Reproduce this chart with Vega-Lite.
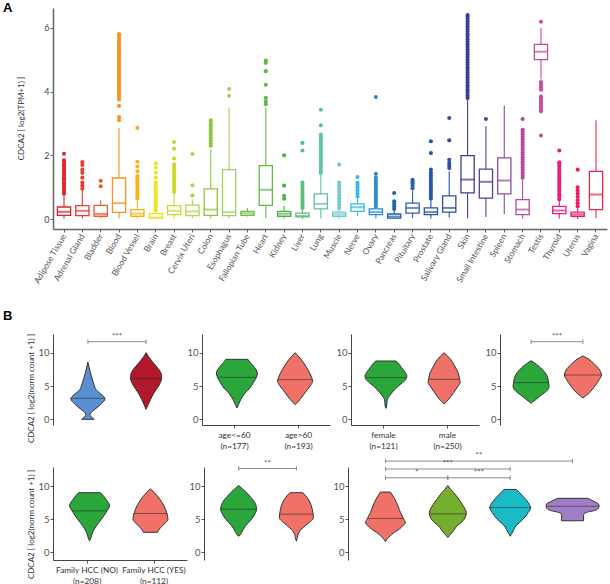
{
"$schema":"https://vega.github.io/schema/vega-lite/v6.json",
"background":"white",
"padding":{"left":3,"top":2,"right":0,"bottom":0},
"config":{
 "font":"Lato",
 "view":{"stroke":null},
 "axis":{"grid":false,"labelFont":"Lato","titleFont":"Lato","titleFontWeight":"normal","titleFontSize":8,"titleColor":"#333","labelColor":"#555","tickSize":3,"tickColor":"#555","domainColor":"#444","labelPadding":1},
 "axisX":{"labelFontSize":8.3,"labelColor":"#333","labelLineHeight":11,"labelPadding":2,"labelOverlap":false,"labelAngle":0},
 "axisY":{"labelFontSize":9.5}
},
"datasets":{
 "box":[
  {"t":"Adipose Tissue","lo":0.02,"q1":0.12,"med":0.23,"q3":0.38,"hi":0.76},
  {"t":"Adrenal Gland","lo":0.02,"q1":0.11,"med":0.26,"q3":0.42,"hi":0.88},
  {"t":"Bladder","lo":0.03,"q1":0.09,"med":0.16,"q3":0.43,"hi":0.58},
  {"t":"Blood","lo":0.02,"q1":0.21,"med":0.5,"q3":1.29,"hi":2.86},
  {"t":"Blood Vessel","lo":0.02,"q1":0.09,"med":0.17,"q3":0.3,"hi":0.6},
  {"t":"Brain","lo":0.0,"q1":0.03,"med":0.05,"q3":0.17,"hi":0.22},
  {"t":"Breast","lo":0.02,"q1":0.14,"med":0.26,"q3":0.42,"hi":0.8},
  {"t":"Cervix Uteri","lo":0.02,"q1":0.11,"med":0.24,"q3":0.44,"hi":0.62},
  {"t":"Colon","lo":0.02,"q1":0.12,"med":0.3,"q3":0.95,"hi":2.18},
  {"t":"Esophagus","lo":0.02,"q1":0.11,"med":0.22,"q3":1.55,"hi":3.49},
  {"t":"Fallopian Tube","lo":0.08,"q1":0.12,"med":0.18,"q3":0.24,"hi":0.35},
  {"t":"Heart","lo":0.03,"q1":0.43,"med":0.92,"q3":1.68,"hi":3.49},
  {"t":"Kidney","lo":0.02,"q1":0.09,"med":0.17,"q3":0.24,"hi":0.42},
  {"t":"Liver","lo":0.0,"q1":0.07,"med":0.1,"q3":0.19,"hi":0.3},
  {"t":"Lung","lo":0.02,"q1":0.32,"med":0.48,"q3":0.79,"hi":1.39},
  {"t":"Muscle","lo":0.0,"q1":0.09,"med":0.15,"q3":0.22,"hi":0.3},
  {"t":"Nerve","lo":0.1,"q1":0.24,"med":0.37,"q3":0.48,"hi":0.63},
  {"t":"Ovary","lo":0.02,"q1":0.14,"med":0.22,"q3":0.32,"hi":0.55},
  {"t":"Pancreas","lo":0.0,"q1":0.03,"med":0.08,"q3":0.16,"hi":0.27},
  {"t":"Pituitary","lo":0.03,"q1":0.19,"med":0.35,"q3":0.5,"hi":0.9},
  {"t":"Prostate","lo":0.02,"q1":0.14,"med":0.22,"q3":0.35,"hi":0.6},
  {"t":"Salivary Gland","lo":0.05,"q1":0.22,"med":0.35,"q3":0.73,"hi":1.5},
  {"t":"Skin","lo":0.03,"q1":0.82,"med":1.24,"q3":1.99,"hi":3.75},
  {"t":"Small Intestine","lo":0.07,"q1":0.66,"med":1.17,"q3":1.57,"hi":2.91},
  {"t":"Spleen","lo":0.16,"q1":0.79,"med":1.21,"q3":1.92,"hi":3.56},
  {"t":"Stomach","lo":0.02,"q1":0.14,"med":0.3,"q3":0.61,"hi":1.25},
  {"t":"Testis","lo":4.38,"q1":5.0,"med":5.25,"q3":5.48,"hi":6.0},
  {"t":"Thyroid","lo":0.02,"q1":0.17,"med":0.27,"q3":0.4,"hi":0.58},
  {"t":"Uterus","lo":0.0,"q1":0.09,"med":0.15,"q3":0.22,"hi":0.35},
  {"t":"Vagina","lo":0.03,"q1":0.3,"med":0.77,"q3":1.5,"hi":3.1}
 ],
 "out":[
  {"t":"Adipose Tissue","y":0.8},{"t":"Adipose Tissue","y":0.88},{"t":"Adipose Tissue","y":0.96},{"t":"Adipose Tissue","y":1.04},{"t":"Adipose Tissue","y":1.12},{"t":"Adipose Tissue","y":1.2},{"t":"Adipose Tissue","y":1.28},{"t":"Adipose Tissue","y":1.36},{"t":"Adipose Tissue","y":1.44},{"t":"Adipose Tissue","y":1.52},{"t":"Adipose Tissue","y":1.6},{"t":"Adipose Tissue","y":1.68},{"t":"Adipose Tissue","y":1.76},{"t":"Adipose Tissue","y":1.84},{"t":"Adipose Tissue","y":2.05},
  {"t":"Adrenal Gland","y":0.95},{"t":"Adrenal Gland","y":1.05},{"t":"Adrenal Gland","y":1.15},{"t":"Adrenal Gland","y":1.3},{"t":"Adrenal Gland","y":1.45},{"t":"Adrenal Gland","y":1.55},{"t":"Adrenal Gland","y":1.7},{"t":"Adrenal Gland","y":1.79},
  {"t":"Bladder","y":1.03},{"t":"Bladder","y":1.2},
  {"t":"Blood","y":3.1},{"t":"Blood","y":3.2},{"t":"Blood","y":3.55},{"t":"Blood","y":3.75},{"t":"Blood","y":3.83},{"t":"Blood","y":3.91},{"t":"Blood","y":3.99},{"t":"Blood","y":4.07},{"t":"Blood","y":4.15},{"t":"Blood","y":4.23},{"t":"Blood","y":4.31},{"t":"Blood","y":4.39},{"t":"Blood","y":4.47},{"t":"Blood","y":4.55},{"t":"Blood","y":4.63},{"t":"Blood","y":4.71},{"t":"Blood","y":4.79},{"t":"Blood","y":4.87},{"t":"Blood","y":4.95},{"t":"Blood","y":5.03},{"t":"Blood","y":5.11},{"t":"Blood","y":5.19},{"t":"Blood","y":5.27},{"t":"Blood","y":5.35},{"t":"Blood","y":5.43},{"t":"Blood","y":5.51},{"t":"Blood","y":5.59},{"t":"Blood","y":5.67},{"t":"Blood","y":5.75},{"t":"Blood","y":5.8},
  {"t":"Blood Vessel","y":0.65},{"t":"Blood Vessel","y":0.72},{"t":"Blood Vessel","y":0.8},{"t":"Blood Vessel","y":0.88},{"t":"Blood Vessel","y":0.96},{"t":"Blood Vessel","y":1.04},{"t":"Blood Vessel","y":1.12},{"t":"Blood Vessel","y":1.2},{"t":"Blood Vessel","y":1.28},{"t":"Blood Vessel","y":1.36},{"t":"Blood Vessel","y":1.5},{"t":"Blood Vessel","y":1.65},{"t":"Blood Vessel","y":1.8},{"t":"Blood Vessel","y":2.86},
  {"t":"Brain","y":0.27},{"t":"Brain","y":0.35},{"t":"Brain","y":0.43},{"t":"Brain","y":0.51},{"t":"Brain","y":0.59},{"t":"Brain","y":0.67},{"t":"Brain","y":0.75},{"t":"Brain","y":0.83},{"t":"Brain","y":0.91},{"t":"Brain","y":0.99},{"t":"Brain","y":1.07},{"t":"Brain","y":1.15},{"t":"Brain","y":1.3},{"t":"Brain","y":1.45},{"t":"Brain","y":1.62},{"t":"Brain","y":1.75},
  {"t":"Breast","y":0.85},{"t":"Breast","y":0.93},{"t":"Breast","y":1.01},{"t":"Breast","y":1.09},{"t":"Breast","y":1.17},{"t":"Breast","y":1.25},{"t":"Breast","y":1.33},{"t":"Breast","y":1.41},{"t":"Breast","y":1.49},{"t":"Breast","y":1.57},{"t":"Breast","y":1.65},{"t":"Breast","y":1.72},{"t":"Breast","y":1.9},{"t":"Breast","y":2.21},{"t":"Breast","y":2.42},
  {"t":"Cervix Uteri","y":0.74},{"t":"Cervix Uteri","y":1.06},{"t":"Cervix Uteri","y":2.04},
  {"t":"Colon","y":2.3},{"t":"Colon","y":2.38},{"t":"Colon","y":2.46},{"t":"Colon","y":2.54},{"t":"Colon","y":2.62},{"t":"Colon","y":2.7},{"t":"Colon","y":2.78},{"t":"Colon","y":2.86},{"t":"Colon","y":2.94},{"t":"Colon","y":3.02},{"t":"Colon","y":3.1},
  {"t":"Esophagus","y":3.87},{"t":"Esophagus","y":4.08},
  {"t":"Heart","y":3.6},{"t":"Heart","y":3.68},{"t":"Heart","y":3.8},{"t":"Heart","y":4.21},{"t":"Heart","y":4.64},{"t":"Heart","y":4.9},{"t":"Heart","y":4.97},
  {"t":"Kidney","y":0.64},{"t":"Kidney","y":0.73},{"t":"Kidney","y":1.05},{"t":"Kidney","y":2.0},
  {"t":"Liver","y":0.35},{"t":"Liver","y":0.43},{"t":"Liver","y":0.51},{"t":"Liver","y":0.59},{"t":"Liver","y":0.67},{"t":"Liver","y":0.75},{"t":"Liver","y":0.83},{"t":"Liver","y":0.91},{"t":"Liver","y":0.99},{"t":"Liver","y":1.07},{"t":"Liver","y":1.15},{"t":"Liver","y":2.15},{"t":"Liver","y":2.39},
  {"t":"Lung","y":1.45},{"t":"Lung","y":1.53},{"t":"Lung","y":1.61},{"t":"Lung","y":1.69},{"t":"Lung","y":1.77},{"t":"Lung","y":1.85},{"t":"Lung","y":1.93},{"t":"Lung","y":2.01},{"t":"Lung","y":2.09},{"t":"Lung","y":2.17},{"t":"Lung","y":2.25},{"t":"Lung","y":2.33},{"t":"Lung","y":2.41},{"t":"Lung","y":2.49},{"t":"Lung","y":2.57},{"t":"Lung","y":2.65},{"t":"Lung","y":2.94},{"t":"Lung","y":3.43},
  {"t":"Muscle","y":0.35},{"t":"Muscle","y":0.45},{"t":"Muscle","y":0.55},{"t":"Muscle","y":0.65},{"t":"Muscle","y":0.75},{"t":"Muscle","y":0.85},{"t":"Muscle","y":0.95},{"t":"Muscle","y":1.05},{"t":"Muscle","y":1.15},{"t":"Muscle","y":1.71},
  {"t":"Nerve","y":0.7},{"t":"Nerve","y":0.8},{"t":"Nerve","y":0.9},{"t":"Nerve","y":1.0},{"t":"Nerve","y":1.08},{"t":"Nerve","y":1.14},{"t":"Nerve","y":1.32},
  {"t":"Ovary","y":0.4},{"t":"Ovary","y":0.48},{"t":"Ovary","y":0.56},{"t":"Ovary","y":0.64},{"t":"Ovary","y":0.72},{"t":"Ovary","y":0.8},{"t":"Ovary","y":0.88},{"t":"Ovary","y":0.96},{"t":"Ovary","y":1.04},{"t":"Ovary","y":1.12},{"t":"Ovary","y":1.2},{"t":"Ovary","y":1.3},{"t":"Ovary","y":1.42},{"t":"Ovary","y":3.83},
  {"t":"Pancreas","y":0.32},{"t":"Pancreas","y":0.4},{"t":"Pancreas","y":0.48},{"t":"Pancreas","y":0.56},{"t":"Pancreas","y":0.82},
  {"t":"Pituitary","y":0.97},{"t":"Pituitary","y":1.05},{"t":"Pituitary","y":1.12},{"t":"Pituitary","y":1.18},{"t":"Pituitary","y":1.23},
  {"t":"Prostate","y":0.65},{"t":"Prostate","y":0.73},{"t":"Prostate","y":0.81},{"t":"Prostate","y":0.89},{"t":"Prostate","y":0.97},{"t":"Prostate","y":1.05},{"t":"Prostate","y":1.13},{"t":"Prostate","y":1.21},{"t":"Prostate","y":1.29},{"t":"Prostate","y":1.37},{"t":"Prostate","y":1.45},{"t":"Prostate","y":1.55},{"t":"Prostate","y":2.07},{"t":"Prostate","y":2.44},
  {"t":"Salivary Gland","y":1.6},{"t":"Salivary Gland","y":1.68},{"t":"Salivary Gland","y":1.76},{"t":"Salivary Gland","y":1.86},{"t":"Salivary Gland","y":2.47},{"t":"Salivary Gland","y":3.17},
  {"t":"Skin","y":3.8},{"t":"Skin","y":3.88},{"t":"Skin","y":3.96},{"t":"Skin","y":4.04},{"t":"Skin","y":4.12},{"t":"Skin","y":4.2},{"t":"Skin","y":4.28},{"t":"Skin","y":4.36},{"t":"Skin","y":4.44},{"t":"Skin","y":4.52},{"t":"Skin","y":4.6},{"t":"Skin","y":4.68},{"t":"Skin","y":4.76},{"t":"Skin","y":4.84},{"t":"Skin","y":4.92},{"t":"Skin","y":5.0},{"t":"Skin","y":5.08},{"t":"Skin","y":5.16},{"t":"Skin","y":5.24},{"t":"Skin","y":5.32},{"t":"Skin","y":5.4},{"t":"Skin","y":5.48},{"t":"Skin","y":5.56},{"t":"Skin","y":5.64},{"t":"Skin","y":5.72},{"t":"Skin","y":5.8},{"t":"Skin","y":5.88},{"t":"Skin","y":5.96},{"t":"Skin","y":6.04},{"t":"Skin","y":6.12},{"t":"Skin","y":6.2},{"t":"Skin","y":6.28},{"t":"Skin","y":6.36},{"t":"Skin","y":6.4},
  {"t":"Small Intestine","y":3.14},
  {"t":"Stomach","y":1.3},{"t":"Stomach","y":1.38},{"t":"Stomach","y":1.46},{"t":"Stomach","y":1.54},{"t":"Stomach","y":1.62},{"t":"Stomach","y":1.7},{"t":"Stomach","y":1.78},{"t":"Stomach","y":1.86},{"t":"Stomach","y":1.94},{"t":"Stomach","y":2.02},{"t":"Stomach","y":2.1},{"t":"Stomach","y":2.18},{"t":"Stomach","y":2.26},{"t":"Stomach","y":2.34},{"t":"Stomach","y":2.42},{"t":"Stomach","y":2.5},{"t":"Stomach","y":2.58},{"t":"Stomach","y":2.66},{"t":"Stomach","y":2.74},{"t":"Stomach","y":2.8},{"t":"Stomach","y":3.14},
  {"t":"Testis","y":2.62},{"t":"Testis","y":3.38},{"t":"Testis","y":3.46},{"t":"Testis","y":3.54},{"t":"Testis","y":3.62},{"t":"Testis","y":3.7},{"t":"Testis","y":3.78},{"t":"Testis","y":3.84},{"t":"Testis","y":4.06},{"t":"Testis","y":4.14},{"t":"Testis","y":4.22},{"t":"Testis","y":4.3},{"t":"Testis","y":6.19},
  {"t":"Thyroid","y":0.62},{"t":"Thyroid","y":0.7},{"t":"Thyroid","y":0.78},{"t":"Thyroid","y":0.86},{"t":"Thyroid","y":0.94},{"t":"Thyroid","y":1.02},{"t":"Thyroid","y":1.1},{"t":"Thyroid","y":1.18},{"t":"Thyroid","y":1.26},{"t":"Thyroid","y":1.34},{"t":"Thyroid","y":1.42},{"t":"Thyroid","y":1.5},{"t":"Thyroid","y":1.58},{"t":"Thyroid","y":1.66},{"t":"Thyroid","y":1.74},{"t":"Thyroid","y":1.78},{"t":"Thyroid","y":2.15},
  {"t":"Uterus","y":0.4},{"t":"Uterus","y":0.5},{"t":"Uterus","y":0.6},{"t":"Uterus","y":0.7},{"t":"Uterus","y":0.8},{"t":"Uterus","y":0.9},{"t":"Uterus","y":1.0},{"t":"Uterus","y":1.55}
 ],
 "grp":[
  {"p":"b1","g":"normal (n=276)"},{"p":"b1","g":"tumor (n=371)"},
  {"p":"b2","g":"age<=60 (n=177)"},{"p":"b2","g":"age>60 (n=193)"},
  {"p":"b3","g":"female (n=121)"},{"p":"b3","g":"male (n=250)"},
  {"p":"b4","g":"AFP normal (n=147)"},{"p":"b4","g":"AFP abnormal (n=131)"},
  {"p":"c1","g":"Family HCC (NO) (n=208)"},{"p":"c1","g":"Family HCC (YES) (n=112)"},
  {"p":"c2","g":"Low stromal score (n=185)"},{"p":"c2","g":"High stromal score (n=186)"},
  {"p":"c3","g":"G1 (n=55)"},{"p":"c3","g":"G2 (n=177)"},{"p":"c3","g":"G3 (n=122)"},{"p":"c3","g":"G4 (n=12)"}
 ],
 "br":[
  {"p":"b1","g1":"normal (n=276)","g2":"tumor (n=371)","m":"normal (n=276)","v":11.65,"s":"***"},
  {"p":"b4","g1":"AFP normal (n=147)","g2":"AFP abnormal (n=131)","m":"AFP normal (n=147)","v":11.65,"s":"***"},
  {"p":"c2","g1":"Low stromal score (n=185)","g2":"High stromal score (n=186)","m":"Low stromal score (n=185)","v":12.67,"s":"**"},
  {"p":"c3","g1":"G1 (n=55)","g2":"G4 (n=12)","m":"G2 (n=177)","v":13.8,"s":"**"},
  {"p":"c3","g1":"G1 (n=55)","g2":"G3 (n=122)","m":"G2 (n=177)","v":12.6,"s":"***"},
  {"p":"c3","g1":"G1 (n=55)","g2":"G2 (n=177)","m":"G1 (n=55)","v":11.26,"s":"*"},
  {"p":"c3","g1":"G2 (n=177)","g2":"G3 (n=122)","m":"G2 (n=177)","v":11.26,"s":"***"}
 ],
 "vio":[
  {"g":"normal (n=276)","v":0,"w":12},{"g":"normal (n=276)","v":0.25,"w":9},{"g":"normal (n=276)","v":0.6,"w":4},{"g":"normal (n=276)","v":1.0,"w":6},{"g":"normal (n=276)","v":1.5,"w":14},{"g":"normal (n=276)","v":2.0,"w":22},{"g":"normal (n=276)","v":2.5,"w":29},{"g":"normal (n=276)","v":3.0,"w":34},{"g":"normal (n=276)","v":3.15,"w":34},{"g":"normal (n=276)","v":3.4,"w":32},{"g":"normal (n=276)","v":3.8,"w":26},{"g":"normal (n=276)","v":4.3,"w":18},{"g":"normal (n=276)","v":5.0,"w":13},{"g":"normal (n=276)","v":5.5,"w":11},{"g":"normal (n=276)","v":6.2,"w":8},{"g":"normal (n=276)","v":7.0,"w":5},{"g":"normal (n=276)","v":7.8,"w":2.5},{"g":"normal (n=276)","v":8.6,"w":0},
  {"g":"tumor (n=371)","v":1.5,"w":0},{"g":"tumor (n=371)","v":2.2,"w":4},{"g":"tumor (n=371)","v":3.0,"w":9},{"g":"tumor (n=371)","v":4.0,"w":16},{"g":"tumor (n=371)","v":5.0,"w":25},{"g":"tumor (n=371)","v":5.6,"w":29},{"g":"tumor (n=371)","v":6.1,"w":31},{"g":"tumor (n=371)","v":6.6,"w":31},{"g":"tumor (n=371)","v":7.2,"w":28},{"g":"tumor (n=371)","v":8.0,"w":20},{"g":"tumor (n=371)","v":8.8,"w":11},{"g":"tumor (n=371)","v":9.4,"w":5},{"g":"tumor (n=371)","v":10.0,"w":0},
  {"g":"age<=60 (n=177)","v":1.7,"w":0},{"g":"age<=60 (n=177)","v":2.2,"w":3},{"g":"age<=60 (n=177)","v":3.0,"w":8},{"g":"age<=60 (n=177)","v":4.0,"w":17},{"g":"age<=60 (n=177)","v":4.7,"w":26},{"g":"age<=60 (n=177)","v":5.5,"w":33},{"g":"age<=60 (n=177)","v":6.0,"w":37},{"g":"age<=60 (n=177)","v":6.3,"w":39},{"g":"age<=60 (n=177)","v":7.0,"w":41},{"g":"age<=60 (n=177)","v":7.5,"w":38},{"g":"age<=60 (n=177)","v":8.0,"w":33},{"g":"age<=60 (n=177)","v":8.5,"w":27},{"g":"age<=60 (n=177)","v":9.0,"w":22},
  {"g":"age>60 (n=193)","v":2.2,"w":0},{"g":"age>60 (n=193)","v":2.5,"w":4},{"g":"age>60 (n=193)","v":3.0,"w":10},{"g":"age>60 (n=193)","v":4.0,"w":20},{"g":"age>60 (n=193)","v":5.0,"w":30},{"g":"age>60 (n=193)","v":5.7,"w":35},{"g":"age>60 (n=193)","v":5.95,"w":34.5},{"g":"age>60 (n=193)","v":6.5,"w":32},{"g":"age>60 (n=193)","v":7.0,"w":29},{"g":"age>60 (n=193)","v":8.0,"w":21},{"g":"age>60 (n=193)","v":9.0,"w":12},{"g":"age>60 (n=193)","v":9.5,"w":6},{"g":"age>60 (n=193)","v":10.0,"w":0},
  {"g":"female (n=121)","v":1.65,"w":0},{"g":"female (n=121)","v":2.0,"w":1.5},{"g":"female (n=121)","v":2.5,"w":2},{"g":"female (n=121)","v":3.0,"w":3},{"g":"female (n=121)","v":3.3,"w":5},{"g":"female (n=121)","v":4.0,"w":12},{"g":"female (n=121)","v":5.0,"w":25},{"g":"female (n=121)","v":5.5,"w":33},{"g":"female (n=121)","v":6.0,"w":40},{"g":"female (n=121)","v":6.25,"w":41},{"g":"female (n=121)","v":6.5,"w":42},{"g":"female (n=121)","v":7.0,"w":39},{"g":"female (n=121)","v":7.5,"w":34},{"g":"female (n=121)","v":8.0,"w":29},{"g":"female (n=121)","v":8.5,"w":24},{"g":"female (n=121)","v":8.75,"w":20},
  {"g":"male (n=250)","v":2.3,"w":0},{"g":"male (n=250)","v":3.0,"w":9},{"g":"male (n=250)","v":4.0,"w":19},{"g":"male (n=250)","v":5.0,"w":28},{"g":"male (n=250)","v":5.5,"w":32},{"g":"male (n=250)","v":6.0,"w":31},{"g":"male (n=250)","v":7.0,"w":28},{"g":"male (n=250)","v":8.0,"w":21},{"g":"male (n=250)","v":9.0,"w":13},{"g":"male (n=250)","v":9.5,"w":7},{"g":"male (n=250)","v":10.0,"w":0},
  {"g":"AFP normal (n=147)","v":2.4,"w":0},{"g":"AFP normal (n=147)","v":2.6,"w":3},{"g":"AFP normal (n=147)","v":3.0,"w":10},{"g":"AFP normal (n=147)","v":3.5,"w":18},{"g":"AFP normal (n=147)","v":4.0,"w":27},{"g":"AFP normal (n=147)","v":4.5,"w":34},{"g":"AFP normal (n=147)","v":5.0,"w":36},{"g":"AFP normal (n=147)","v":5.5,"w":35},{"g":"AFP normal (n=147)","v":6.0,"w":34},{"g":"AFP normal (n=147)","v":6.5,"w":32},{"g":"AFP normal (n=147)","v":7.0,"w":28},{"g":"AFP normal (n=147)","v":7.5,"w":22},{"g":"AFP normal (n=147)","v":8.0,"w":15},{"g":"AFP normal (n=147)","v":8.5,"w":6},{"g":"AFP normal (n=147)","v":8.8,"w":0},
  {"g":"AFP abnormal (n=131)","v":3.2,"w":0},{"g":"AFP abnormal (n=131)","v":3.5,"w":5},{"g":"AFP abnormal (n=131)","v":4.0,"w":13},{"g":"AFP abnormal (n=131)","v":5.0,"w":24},{"g":"AFP abnormal (n=131)","v":6.0,"w":33},{"g":"AFP abnormal (n=131)","v":6.65,"w":37},{"g":"AFP abnormal (n=131)","v":7.2,"w":35},{"g":"AFP abnormal (n=131)","v":8.0,"w":27},{"g":"AFP abnormal (n=131)","v":8.5,"w":20},{"g":"AFP abnormal (n=131)","v":9.0,"w":12},{"g":"AFP abnormal (n=131)","v":9.5,"w":0},
  {"g":"Family HCC (NO) (n=208)","v":1.7,"w":0},{"g":"Family HCC (NO) (n=208)","v":2.0,"w":2},{"g":"Family HCC (NO) (n=208)","v":3.0,"w":6},{"g":"Family HCC (NO) (n=208)","v":4.0,"w":14},{"g":"Family HCC (NO) (n=208)","v":5.0,"w":24},{"g":"Family HCC (NO) (n=208)","v":6.0,"w":33},{"g":"Family HCC (NO) (n=208)","v":6.25,"w":35},{"g":"Family HCC (NO) (n=208)","v":6.5,"w":37},{"g":"Family HCC (NO) (n=208)","v":7.0,"w":40},{"g":"Family HCC (NO) (n=208)","v":7.3,"w":39},{"g":"Family HCC (NO) (n=208)","v":8.0,"w":33},{"g":"Family HCC (NO) (n=208)","v":8.5,"w":28},{"g":"Family HCC (NO) (n=208)","v":9.0,"w":22},
  {"g":"Family HCC (YES) (n=112)","v":3.0,"w":14},{"g":"Family HCC (YES) (n=112)","v":3.5,"w":18},{"g":"Family HCC (YES) (n=112)","v":4.0,"w":24},{"g":"Family HCC (YES) (n=112)","v":4.5,"w":31},{"g":"Family HCC (YES) (n=112)","v":5.0,"w":35},{"g":"Family HCC (YES) (n=112)","v":5.85,"w":33},{"g":"Family HCC (YES) (n=112)","v":6.5,"w":30},{"g":"Family HCC (YES) (n=112)","v":7.0,"w":27},{"g":"Family HCC (YES) (n=112)","v":8.0,"w":19},{"g":"Family HCC (YES) (n=112)","v":8.5,"w":14},{"g":"Family HCC (YES) (n=112)","v":9.0,"w":8},{"g":"Family HCC (YES) (n=112)","v":9.6,"w":0},
  {"g":"Low stromal score (n=185)","v":2.4,"w":0},{"g":"Low stromal score (n=185)","v":2.6,"w":3},{"g":"Low stromal score (n=185)","v":3.0,"w":6},{"g":"Low stromal score (n=185)","v":4.0,"w":14},{"g":"Low stromal score (n=185)","v":5.0,"w":26},{"g":"Low stromal score (n=185)","v":6.0,"w":34},{"g":"Low stromal score (n=185)","v":6.5,"w":36},{"g":"Low stromal score (n=185)","v":7.0,"w":35},{"g":"Low stromal score (n=185)","v":8.0,"w":28},{"g":"Low stromal score (n=185)","v":8.5,"w":22},{"g":"Low stromal score (n=185)","v":9.0,"w":16},{"g":"Low stromal score (n=185)","v":9.5,"w":9},{"g":"Low stromal score (n=185)","v":10.1,"w":0},
  {"g":"High stromal score (n=186)","v":1.65,"w":0},{"g":"High stromal score (n=186)","v":2.2,"w":2},{"g":"High stromal score (n=186)","v":2.8,"w":4},{"g":"High stromal score (n=186)","v":3.3,"w":8},{"g":"High stromal score (n=186)","v":4.0,"w":18},{"g":"High stromal score (n=186)","v":4.5,"w":26},{"g":"High stromal score (n=186)","v":5.0,"w":33},{"g":"High stromal score (n=186)","v":5.2,"w":34},{"g":"High stromal score (n=186)","v":5.75,"w":33.5},{"g":"High stromal score (n=186)","v":6.0,"w":33},{"g":"High stromal score (n=186)","v":7.0,"w":30},{"g":"High stromal score (n=186)","v":8.0,"w":24},{"g":"High stromal score (n=186)","v":8.5,"w":19},{"g":"High stromal score (n=186)","v":9.0,"w":13},
  {"g":"G1 (n=55)","v":1.6,"w":0},{"g":"G1 (n=55)","v":2.2,"w":6},{"g":"G1 (n=55)","v":3.0,"w":18},{"g":"G1 (n=55)","v":3.5,"w":28},{"g":"G1 (n=55)","v":4.0,"w":35},{"g":"G1 (n=55)","v":4.45,"w":40},{"g":"G1 (n=55)","v":5.1,"w":36},{"g":"G1 (n=55)","v":6.0,"w":30},{"g":"G1 (n=55)","v":7.0,"w":25},{"g":"G1 (n=55)","v":8.0,"w":19},{"g":"G1 (n=55)","v":8.5,"w":15},{"g":"G1 (n=55)","v":9.1,"w":10},
  {"g":"G2 (n=177)","v":2.2,"w":0},{"g":"G2 (n=177)","v":2.5,"w":3},{"g":"G2 (n=177)","v":3.0,"w":9},{"g":"G2 (n=177)","v":4.0,"w":19},{"g":"G2 (n=177)","v":4.5,"w":27},{"g":"G2 (n=177)","v":5.0,"w":33},{"g":"G2 (n=177)","v":5.5,"w":36},{"g":"G2 (n=177)","v":5.8,"w":37},{"g":"G2 (n=177)","v":6.3,"w":36},{"g":"G2 (n=177)","v":7.0,"w":31},{"g":"G2 (n=177)","v":8.0,"w":22},{"g":"G2 (n=177)","v":9.0,"w":12},{"g":"G2 (n=177)","v":9.5,"w":6},{"g":"G2 (n=177)","v":10.1,"w":0},
  {"g":"G3 (n=122)","v":2.4,"w":0},{"g":"G3 (n=122)","v":2.8,"w":3},{"g":"G3 (n=122)","v":3.2,"w":6},{"g":"G3 (n=122)","v":4.0,"w":12},{"g":"G3 (n=122)","v":4.5,"w":19},{"g":"G3 (n=122)","v":5.0,"w":26},{"g":"G3 (n=122)","v":6.0,"w":36},{"g":"G3 (n=122)","v":6.75,"w":41},{"g":"G3 (n=122)","v":7.0,"w":40},{"g":"G3 (n=122)","v":8.0,"w":31},{"g":"G3 (n=122)","v":8.5,"w":25},{"g":"G3 (n=122)","v":9.0,"w":19},{"g":"G3 (n=122)","v":9.5,"w":12},
  {"g":"G4 (n=12)","v":4.75,"w":22},{"g":"G4 (n=12)","v":5.5,"w":22},{"g":"G4 (n=12)","v":5.9,"w":24},{"g":"G4 (n=12)","v":6.1,"w":32},{"g":"G4 (n=12)","v":6.3,"w":44},{"g":"G4 (n=12)","v":6.6,"w":51},{"g":"G4 (n=12)","v":6.95,"w":53},{"g":"G4 (n=12)","v":7.3,"w":52},{"g":"G4 (n=12)","v":7.6,"w":45},{"g":"G4 (n=12)","v":7.9,"w":37},{"g":"G4 (n=12)","v":8.15,"w":30}
 ]
},
"columns":1,
"align":"none",
"spacing":24,
"concat":[
  {
   "width":554,"height":221,
   "encoding":{
    "x":{"field":"t","type":"nominal","title":null,
     "scale":{"domain":["Adipose Tissue","Adrenal Gland","Bladder","Blood","Blood Vessel","Brain","Breast","Cervix Uteri","Colon","Esophagus","Fallopian Tube","Heart","Kidney","Liver","Lung","Muscle","Nerve","Ovary","Pancreas","Pituitary","Prostate","Salivary Gland","Skin","Small Intestine","Spleen","Stomach","Testis","Thyroid","Uterus","Vagina"],"paddingInner":0,"paddingOuter":0.1},
     "axis":{"labelAngle":-60,"labelFontSize":8.5,"labelColor":"#555","tickColor":"#666","domainColor":"#666","domainWidth":1.5,"labelPadding":2}},
    "color":{"field":"t","type":"nominal","legend":null,
     "scale":{"domain":["Adipose Tissue","Adrenal Gland","Bladder","Blood","Blood Vessel","Brain","Breast","Cervix Uteri","Colon","Esophagus","Fallopian Tube","Heart","Kidney","Liver","Lung","Muscle","Nerve","Ovary","Pancreas","Pituitary","Prostate","Salivary Gland","Skin","Small Intestine","Spleen","Stomach","Testis","Thyroid","Uterus","Vagina"],
      "range":["#e8202a","#ec3b30","#f15a29","#f7941d","#f9b317","#f1e31f","#cbd92b","#b5d445","#8dc63f","#a2cf69","#74bf44","#61b946","#4eb04a","#5cbd7c","#5ec4a0","#70cad2","#30bbe9","#2b8dcd","#1f63b0","#2b61ad","#2855a5","#2f4f9f","#3a3f98","#5a3f99","#8a4fa0","#b24b9e","#c94a9b","#e91e7e","#ec1e63","#ee2a45"]}}
   },
   "layer":[
    {"data":{"name":"box"},"mark":{"type":"rule","strokeWidth":1.1},
     "encoding":{"y":{"field":"lo","type":"quantitative","title":"CDCA2 [ log2(TPM+1) ]","scale":{"domain":[-0.31,6.62],"nice":false,"zero":false},
       "axis":{"values":[0,2,4,6],"title":"CDCA2 [ log2(TPM+1) ]","titleX":-28,"titleY":110,"labelFontSize":9,"labelColor":"#444","labelPadding":1,"tickColor":"#666","domainColor":"#666","domainWidth":1.5}},
      "y2":{"field":"hi"}}},
    {"data":{"name":"box"},"mark":{"type":"bar","strokeWidth":1.3,"width":{"band":0.72}},
     "encoding":{"y":{"field":"q1","type":"quantitative","title":"CDCA2 [ log2(TPM+1) ]","scale":{"domain":[-0.31,6.62],"nice":false,"zero":false},
       "axis":{"values":[0,2,4,6],"title":"CDCA2 [ log2(TPM+1) ]","titleX":-28,"titleY":110,"labelFontSize":9,"labelColor":"#444","labelPadding":1,"tickColor":"#666","domainColor":"#666","domainWidth":1.5}},"y2":{"field":"q3"},
      "color":{"value":"white"},
      "stroke":{"field":"t","type":"nominal","legend":null,
       "scale":{"domain":["Adipose Tissue","Adrenal Gland","Bladder","Blood","Blood Vessel","Brain","Breast","Cervix Uteri","Colon","Esophagus","Fallopian Tube","Heart","Kidney","Liver","Lung","Muscle","Nerve","Ovary","Pancreas","Pituitary","Prostate","Salivary Gland","Skin","Small Intestine","Spleen","Stomach","Testis","Thyroid","Uterus","Vagina"],
        "range":["#e8202a","#ec3b30","#f15a29","#f7941d","#f9b317","#f1e31f","#cbd92b","#b5d445","#8dc63f","#a2cf69","#74bf44","#61b946","#4eb04a","#5cbd7c","#5ec4a0","#70cad2","#30bbe9","#2b8dcd","#1f63b0","#2b61ad","#2855a5","#2f4f9f","#3a3f98","#5a3f99","#8a4fa0","#b24b9e","#c94a9b","#e91e7e","#ec1e63","#ee2a45"]}}}},
    {"data":{"name":"box"},"mark":{"type":"tick","thickness":2,"size":13.5},
     "encoding":{"y":{"field":"med","type":"quantitative","title":"CDCA2 [ log2(TPM+1) ]","scale":{"domain":[-0.31,6.62],"nice":false,"zero":false},
       "axis":{"values":[0,2,4,6],"title":"CDCA2 [ log2(TPM+1) ]","titleX":-28,"titleY":110,"labelFontSize":9,"labelColor":"#444","labelPadding":1,"tickColor":"#666","domainColor":"#666","domainWidth":1.5}}}},
    {"data":{"name":"out"},"mark":{"type":"circle","size":17,"opacity":1},
     "encoding":{"y":{"field":"y","type":"quantitative","title":"CDCA2 [ log2(TPM+1) ]","scale":{"domain":[-0.31,6.62],"nice":false,"zero":false},
       "axis":{"values":[0,2,4,6],"title":"CDCA2 [ log2(TPM+1) ]","titleX":-28,"titleY":110,"labelFontSize":9,"labelColor":"#444","labelPadding":1,"tickColor":"#666","domainColor":"#666","domainWidth":1.5}}}},
    {"data":{"values":[{"lab":"A"}]},"mark":{"type":"text","font":"Liberation Sans","fontSize":13,"fontWeight":"bold","align":"left","baseline":"top","dx":-61,"dy":-6},
     "encoding":{"x":{"datum":"Adipose Tissue","type":"nominal","title":null,
       "scale":{"domain":["Adipose Tissue","Adrenal Gland","Bladder","Blood","Blood Vessel","Brain","Breast","Cervix Uteri","Colon","Esophagus","Fallopian Tube","Heart","Kidney","Liver","Lung","Muscle","Nerve","Ovary","Pancreas","Pituitary","Prostate","Salivary Gland","Skin","Small Intestine","Spleen","Stomach","Testis","Thyroid","Uterus","Vagina"],"paddingInner":0,"paddingOuter":0.1},
       "axis":{"labelAngle":-60,"labelFontSize":8.5,"labelColor":"#555","tickColor":"#666","domainColor":"#666","domainWidth":1.5,"labelPadding":2}},
      "y":{"datum":6.62,"type":"quantitative","title":"CDCA2 [ log2(TPM+1) ]","scale":{"domain":[-0.31,6.62],"nice":false,"zero":false},
       "axis":{"values":[0,2,4,6],"title":"CDCA2 [ log2(TPM+1) ]","titleX":-28,"titleY":110,"labelFontSize":9,"labelColor":"#444","labelPadding":1,"tickColor":"#666","domainColor":"#666","domainWidth":1.5}},
      "color":{"value":"#000"},
      "text":{"field":"lab"}}}
   ]
  },
  {"spacing":2,
   "vconcat":[
    {"hconcat":[
     {"width":128,"height":91,
      "layer":[
       {"encoding":{"y":{"field":"v","type":"quantitative","scale":{"domain":[-0.85,12.8],"nice":false,"zero":false},"axis":{"values":[0,5,10],"title":"CDCA2 [ log2(norm count +1) ]","titleY":54,"titlePadding":2}}},
        "layer":[
        {"data":{"name":"grp"},"transform":[{"filter":"datum.p === 'b1'"}],"mark":{"type":"point","opacity":0},
         "encoding":{"x":{"field":"g","type":"nominal","title":null,"scale":{"domain":["normal (n=276)","tumor (n=371)"],"paddingInner":0,"paddingOuter":0.1},"axis":{"labelExpr":"[slice(datum.value,0,lastindexof(datum.value,' (')), slice(datum.value,lastindexof(datum.value,' (')+1)]"}}}},
        {"data":{"name":"br"},"transform":[{"filter":"datum.p === 'b1'"}],"layer":[
         {"mark":{"type":"rule","color":"#8c8c8c","strokeWidth":1},"encoding":{"x":{"field":"g1","type":"nominal","scale":{"domain":["normal (n=276)","tumor (n=371)"],"paddingInner":0,"paddingOuter":0.1},"axis":null},"x2":{"field":"g2"}}},
         {"mark":{"type":"point","shape":"M0,-1L0,1","size":20,"color":"#8c8c8c","strokeWidth":1,"filled":false,"opacity":1},"encoding":{"x":{"field":"g1","type":"nominal","scale":{"domain":["normal (n=276)","tumor (n=371)"],"paddingInner":0,"paddingOuter":0.1},"axis":null}}},
         {"mark":{"type":"point","shape":"M0,-1L0,1","size":20,"color":"#8c8c8c","strokeWidth":1,"filled":false,"opacity":1},"encoding":{"x":{"field":"g2","type":"nominal","scale":{"domain":["normal (n=276)","tumor (n=371)"],"paddingInner":0,"paddingOuter":0.1},"axis":null}}},
         {"mark":{"type":"text","fontSize":8,"color":"#555","baseline":"bottom","dy":-1},"encoding":{"x":{"field":"m","type":"nominal","bandPosition":1,"scale":{"domain":["normal (n=276)","tumor (n=371)"],"paddingInner":0,"paddingOuter":0.1},"axis":null},"text":{"field":"s"}}}
        ]}
       ]},
       {"data":{"values":[{"lab":"B"}]},"mark":{"type":"text","font":"Liberation Sans","fontSize":13,"fontWeight":"bold","align":"left","baseline":"top","dx":-82,"dy":-24.5},
        "encoding":{"x":{"datum":"normal (n=276)","type":"nominal","title":null,"scale":{"domain":["normal (n=276)","tumor (n=371)"],"paddingInner":0,"paddingOuter":0.1},"axis":null},
         "y":{"datum":12.8,"type":"quantitative","scale":{"domain":[-0.85,12.8],"nice":false,"zero":false},"axis":{"values":[0,5,10],"title":"CDCA2 [ log2(norm count +1) ]","titleY":54,"titlePadding":2}},
         "color":{"value":"#000"},
         "text":{"field":"lab"}}},
       {"data":{"name":"vio"},"transform":[{"filter":"datum.g === 'normal (n=276)'"},{"stack":"w","groupby":["v"],"offset":"center","as":["x0","x1"]}],
        "encoding":{"y":{"field":"v","type":"quantitative","scale":{"domain":[-0.85,12.8],"nice":false,"zero":false},"axis":{"values":[0,5,10],"title":"CDCA2 [ log2(norm count +1) ]","titleY":54,"titlePadding":2}}},
        "layer":[
        {"mark":{"type":"area","orient":"horizontal","interpolate":"monotone","fill":"#5b8fd4","stroke":"#333","strokeWidth":1},"encoding":{"x":{"field":"x0","type":"quantitative","scale":{"domain":[-17.9,110.1],"nice":false,"zero":false},"axis":null},"x2":{"field":"x1"}}},
        {"transform":[{"filter":"datum.v === 3.15"}],"mark":{"type":"rule","color":"#222","strokeOpacity":0.55,"strokeWidth":1},"encoding":{"x":{"field":"x0","type":"quantitative","scale":{"domain":[-17.9,110.1],"nice":false,"zero":false},"axis":null},"x2":{"field":"x1"}}}
       ]},
       {"data":{"name":"vio"},"transform":[{"filter":"datum.g === 'tumor (n=371)'"},{"stack":"w","groupby":["v"],"offset":"center","as":["x0","x1"]}],
        "encoding":{"y":{"field":"v","type":"quantitative","scale":{"domain":[-0.85,12.8],"nice":false,"zero":false},"axis":{"values":[0,5,10],"title":"CDCA2 [ log2(norm count +1) ]","titleY":54,"titlePadding":2}}},
        "layer":[
        {"mark":{"type":"area","orient":"horizontal","interpolate":"monotone","fill":"#b2182b","stroke":"#333","strokeWidth":1},"encoding":{"x":{"field":"x0","type":"quantitative","scale":{"domain":[-77.6,50.4],"nice":false,"zero":false},"axis":null},"x2":{"field":"x1"}}},
        {"transform":[{"filter":"datum.v === 6.1"}],"mark":{"type":"rule","color":"#222","strokeOpacity":0.55,"strokeWidth":1},"encoding":{"x":{"field":"x0","type":"quantitative","scale":{"domain":[-77.6,50.4],"nice":false,"zero":false},"axis":null},"x2":{"field":"x1"}}}
       ]}
      ],
      "resolve":{"scale":{"x":"independent"},"axis":{"x":"independent"}}
     },
     {"width":128,"height":91,
      "encoding":{"y":{"field":"v","type":"quantitative","scale":{"domain":[-0.85,12.8],"nice":false,"zero":false},"axis":{"values":[0,5,10],"title":null}}},
      "layer":[
       {"data":{"name":"grp"},"transform":[{"filter":"datum.p === 'b2'"}],"mark":{"type":"point","opacity":0},
        "encoding":{"x":{"field":"g","type":"nominal","title":null,"scale":{"domain":["age<=60 (n=177)","age>60 (n=193)"],"paddingInner":0,"paddingOuter":0.1},"axis":{"labelExpr":"[slice(datum.value,0,lastindexof(datum.value,' (')), slice(datum.value,lastindexof(datum.value,' (')+1)]"}}}},
       {"data":{"name":"vio"},"transform":[{"filter":"datum.g === 'age<=60 (n=177)'"},{"stack":"w","groupby":["v"],"offset":"center","as":["x0","x1"]}],"layer":[
        {"mark":{"type":"area","orient":"horizontal","interpolate":"monotone","fill":"#2aa63a","stroke":"#333","strokeWidth":1},"encoding":{"x":{"field":"x0","type":"quantitative","scale":{"domain":[-14.4,113.6],"nice":false,"zero":false},"axis":null},"x2":{"field":"x1"}}},
        {"transform":[{"filter":"datum.v === 6.3"}],"mark":{"type":"rule","color":"#222","strokeOpacity":0.55,"strokeWidth":1},"encoding":{"x":{"field":"x0","type":"quantitative","scale":{"domain":[-14.4,113.6],"nice":false,"zero":false},"axis":null},"x2":{"field":"x1"}}}
       ]},
       {"data":{"name":"vio"},"transform":[{"filter":"datum.g === 'age>60 (n=193)'"},{"stack":"w","groupby":["v"],"offset":"center","as":["x0","x1"]}],"layer":[
        {"mark":{"type":"area","orient":"horizontal","interpolate":"monotone","fill":"#f07167","stroke":"#333","strokeWidth":1},"encoding":{"x":{"field":"x0","type":"quantitative","scale":{"domain":[-75.6,52.4],"nice":false,"zero":false},"axis":null},"x2":{"field":"x1"}}},
        {"transform":[{"filter":"datum.v === 5.95"}],"mark":{"type":"rule","color":"#222","strokeOpacity":0.55,"strokeWidth":1},"encoding":{"x":{"field":"x0","type":"quantitative","scale":{"domain":[-75.6,52.4],"nice":false,"zero":false},"axis":null},"x2":{"field":"x1"}}}
       ]}
      ],
      "resolve":{"scale":{"x":"independent"},"axis":{"x":"independent"}}
     },
     {"width":128,"height":91,
      "encoding":{"y":{"field":"v","type":"quantitative","scale":{"domain":[-0.85,12.8],"nice":false,"zero":false},"axis":{"values":[0,5,10],"title":null}}},
      "layer":[
       {"data":{"name":"grp"},"transform":[{"filter":"datum.p === 'b3'"}],"mark":{"type":"point","opacity":0},
        "encoding":{"x":{"field":"g","type":"nominal","title":null,"scale":{"domain":["female (n=121)","male (n=250)"],"paddingInner":0,"paddingOuter":0.1},"axis":{"labelExpr":"[slice(datum.value,0,lastindexof(datum.value,' (')), slice(datum.value,lastindexof(datum.value,' (')+1)]"}}}},
       {"data":{"name":"vio"},"transform":[{"filter":"datum.g === 'female (n=121)'"},{"stack":"w","groupby":["v"],"offset":"center","as":["x0","x1"]}],"layer":[
        {"mark":{"type":"area","orient":"horizontal","interpolate":"monotone","fill":"#2aa63a","stroke":"#333","strokeWidth":1},"encoding":{"x":{"field":"x0","type":"quantitative","scale":{"domain":[-13.9,114.1],"nice":false,"zero":false},"axis":null},"x2":{"field":"x1"}}},
        {"transform":[{"filter":"datum.v === 6.25"}],"mark":{"type":"rule","color":"#222","strokeOpacity":0.55,"strokeWidth":1},"encoding":{"x":{"field":"x0","type":"quantitative","scale":{"domain":[-13.9,114.1],"nice":false,"zero":false},"axis":null},"x2":{"field":"x1"}}}
       ]},
       {"data":{"name":"vio"},"transform":[{"filter":"datum.g === 'male (n=250)'"},{"stack":"w","groupby":["v"],"offset":"center","as":["x0","x1"]}],"layer":[
        {"mark":{"type":"area","orient":"horizontal","interpolate":"monotone","fill":"#f07167","stroke":"#333","strokeWidth":1},"encoding":{"x":{"field":"x0","type":"quantitative","scale":{"domain":[-77.1,50.9],"nice":false,"zero":false},"axis":null},"x2":{"field":"x1"}}},
        {"transform":[{"filter":"datum.v === 6.0"}],"mark":{"type":"rule","color":"#222","strokeOpacity":0.55,"strokeWidth":1},"encoding":{"x":{"field":"x0","type":"quantitative","scale":{"domain":[-77.1,50.9],"nice":false,"zero":false},"axis":null},"x2":{"field":"x1"}}}
       ]}
      ],
      "resolve":{"scale":{"x":"independent"},"axis":{"x":"independent"}}
     },
     {"width":114,"height":91,
      "encoding":{"y":{"field":"v","type":"quantitative","scale":{"domain":[-0.85,12.8],"nice":false,"zero":false},"axis":{"values":[0,5,10],"title":null}}},
      "layer":[
       {"layer":[
        {"data":{"name":"grp"},"transform":[{"filter":"datum.p === 'b4'"}],"mark":{"type":"point","opacity":0},
         "encoding":{"x":{"field":"g","type":"nominal","title":null,"scale":{"domain":["AFP normal (n=147)","AFP abnormal (n=131)"],"paddingInner":0,"paddingOuter":0.1},"axis":{"labelExpr":"[slice(datum.value,0,lastindexof(datum.value,' (')), slice(datum.value,lastindexof(datum.value,' (')+1)]"}}}},
        {"data":{"name":"br"},"transform":[{"filter":"datum.p === 'b4'"}],"layer":[
         {"mark":{"type":"rule","color":"#8c8c8c","strokeWidth":1},"encoding":{"x":{"field":"g1","type":"nominal","scale":{"domain":["AFP normal (n=147)","AFP abnormal (n=131)"],"paddingInner":0,"paddingOuter":0.1},"axis":null},"x2":{"field":"g2"}}},
         {"mark":{"type":"point","shape":"M0,-1L0,1","size":20,"color":"#8c8c8c","strokeWidth":1,"filled":false,"opacity":1},"encoding":{"x":{"field":"g1","type":"nominal","scale":{"domain":["AFP normal (n=147)","AFP abnormal (n=131)"],"paddingInner":0,"paddingOuter":0.1},"axis":null}}},
         {"mark":{"type":"point","shape":"M0,-1L0,1","size":20,"color":"#8c8c8c","strokeWidth":1,"filled":false,"opacity":1},"encoding":{"x":{"field":"g2","type":"nominal","scale":{"domain":["AFP normal (n=147)","AFP abnormal (n=131)"],"paddingInner":0,"paddingOuter":0.1},"axis":null}}},
         {"mark":{"type":"text","fontSize":8,"color":"#555","baseline":"bottom","dy":-1},"encoding":{"x":{"field":"m","type":"nominal","bandPosition":1,"scale":{"domain":["AFP normal (n=147)","AFP abnormal (n=131)"],"paddingInner":0,"paddingOuter":0.1},"axis":null},"text":{"field":"s"}}}
        ]}
       ]},
       {"data":{"name":"vio"},"transform":[{"filter":"datum.g === 'AFP normal (n=147)'"},{"stack":"w","groupby":["v"],"offset":"center","as":["x0","x1"]}],"layer":[
        {"mark":{"type":"area","orient":"horizontal","interpolate":"monotone","fill":"#2aa63a","stroke":"#333","strokeWidth":1},"encoding":{"x":{"field":"x0","type":"quantitative","scale":{"domain":[-13.09,100.91],"nice":false,"zero":false},"axis":null},"x2":{"field":"x1"}}},
        {"transform":[{"filter":"datum.v === 5.5"}],"mark":{"type":"rule","color":"#222","strokeOpacity":0.55,"strokeWidth":1},"encoding":{"x":{"field":"x0","type":"quantitative","scale":{"domain":[-13.09,100.91],"nice":false,"zero":false},"axis":null},"x2":{"field":"x1"}}}
       ]},
       {"data":{"name":"vio"},"transform":[{"filter":"datum.g === 'AFP abnormal (n=131)'"},{"stack":"w","groupby":["v"],"offset":"center","as":["x0","x1"]}],"layer":[
        {"mark":{"type":"area","orient":"horizontal","interpolate":"monotone","fill":"#f07167","stroke":"#333","strokeWidth":1},"encoding":{"x":{"field":"x0","type":"quantitative","scale":{"domain":[-64.41,49.59],"nice":false,"zero":false},"axis":null},"x2":{"field":"x1"}}},
        {"transform":[{"filter":"datum.v === 6.65"}],"mark":{"type":"rule","color":"#222","strokeOpacity":0.55,"strokeWidth":1},"encoding":{"x":{"field":"x0","type":"quantitative","scale":{"domain":[-64.41,49.59],"nice":false,"zero":false},"axis":null},"x2":{"field":"x1"}}}
       ]}
      ],
      "resolve":{"scale":{"x":"independent"},"axis":{"x":"independent"}}
     }
    ],"spacing":21,"bounds":"flush"},
    {"hconcat":[
     {"width":134,"height":93,
      "encoding":{"y":{"field":"v","type":"quantitative","scale":{"domain":[-1.2,12.9],"nice":false,"zero":false},"axis":{"values":[0,5,10],"title":"CDCA2 [ log2(norm count +1) ]","titleY":57,"titlePadding":2}}},
      "layer":[
       {"data":{"name":"grp"},"transform":[{"filter":"datum.p === 'c1'"}],"mark":{"type":"point","opacity":0},
        "encoding":{"x":{"field":"g","type":"nominal","title":null,"scale":{"domain":["Family HCC (NO) (n=208)","Family HCC (YES) (n=112)"],"paddingInner":0,"paddingOuter":0.1},"axis":{"labelExpr":"[slice(datum.value,0,lastindexof(datum.value,' (')), slice(datum.value,lastindexof(datum.value,' (')+1)]"}}}},
       {"data":{"name":"vio"},"transform":[{"filter":"datum.g === 'Family HCC (NO) (n=208)'"},{"stack":"w","groupby":["v"],"offset":"center","as":["x0","x1"]}],"layer":[
        {"mark":{"type":"area","orient":"horizontal","interpolate":"monotone","fill":"#2aa63a","stroke":"#333","strokeWidth":1},"encoding":{"x":{"field":"x0","type":"quantitative","scale":{"domain":[-16.55,117.45],"nice":false,"zero":false},"axis":null},"x2":{"field":"x1"}}},
        {"transform":[{"filter":"datum.v === 6.25"}],"mark":{"type":"rule","color":"#222","strokeOpacity":0.55,"strokeWidth":1},"encoding":{"x":{"field":"x0","type":"quantitative","scale":{"domain":[-16.55,117.45],"nice":false,"zero":false},"axis":null},"x2":{"field":"x1"}}}
       ]},
       {"data":{"name":"vio"},"transform":[{"filter":"datum.g === 'Family HCC (YES) (n=112)'"},{"stack":"w","groupby":["v"],"offset":"center","as":["x0","x1"]}],"layer":[
        {"mark":{"type":"area","orient":"horizontal","interpolate":"monotone","fill":"#f07167","stroke":"#333","strokeWidth":1},"encoding":{"x":{"field":"x0","type":"quantitative","scale":{"domain":[-79.95,54.05],"nice":false,"zero":false},"axis":null},"x2":{"field":"x1"}}},
        {"transform":[{"filter":"datum.v === 5.85"}],"mark":{"type":"rule","color":"#222","strokeOpacity":0.55,"strokeWidth":1},"encoding":{"x":{"field":"x0","type":"quantitative","scale":{"domain":[-79.95,54.05],"nice":false,"zero":false},"axis":null},"x2":{"field":"x1"}}}
       ]}
      ],
      "resolve":{"scale":{"x":"independent"},"axis":{"x":"independent"}}
     },
     {"width":127,"height":93,
      "encoding":{"y":{"field":"v","type":"quantitative","scale":{"domain":[-1.2,12.9],"nice":false,"zero":false},"axis":{"values":[0,5,10],"title":null}}},
      "layer":[
       {"layer":[
        {"data":{"name":"grp"},"transform":[{"filter":"datum.p === 'c2'"}],"mark":{"type":"point","opacity":0},
         "encoding":{"x":{"field":"g","type":"nominal","title":null,"scale":{"domain":["Low stromal score (n=185)","High stromal score (n=186)"],"paddingInner":0,"paddingOuter":0.1},"axis":{"labelExpr":"[slice(datum.value,0,lastindexof(datum.value,' (')), slice(datum.value,lastindexof(datum.value,' (')+1)]"}}}},
        {"data":{"name":"br"},"transform":[{"filter":"datum.p === 'c2'"}],"layer":[
         {"mark":{"type":"rule","color":"#8c8c8c","strokeWidth":1},"encoding":{"x":{"field":"g1","type":"nominal","scale":{"domain":["Low stromal score (n=185)","High stromal score (n=186)"],"paddingInner":0,"paddingOuter":0.1},"axis":null},"x2":{"field":"g2"}}},
         {"mark":{"type":"point","shape":"M0,-1L0,1","size":20,"color":"#8c8c8c","strokeWidth":1,"filled":false,"opacity":1},"encoding":{"x":{"field":"g1","type":"nominal","scale":{"domain":["Low stromal score (n=185)","High stromal score (n=186)"],"paddingInner":0,"paddingOuter":0.1},"axis":null}}},
         {"mark":{"type":"point","shape":"M0,-1L0,1","size":20,"color":"#8c8c8c","strokeWidth":1,"filled":false,"opacity":1},"encoding":{"x":{"field":"g2","type":"nominal","scale":{"domain":["Low stromal score (n=185)","High stromal score (n=186)"],"paddingInner":0,"paddingOuter":0.1},"axis":null}}},
         {"mark":{"type":"text","fontSize":8,"color":"#555","baseline":"bottom","dy":-1},"encoding":{"x":{"field":"m","type":"nominal","bandPosition":1,"scale":{"domain":["Low stromal score (n=185)","High stromal score (n=186)"],"paddingInner":0,"paddingOuter":0.1},"axis":null},"text":{"field":"s"}}}
        ]}
       ]},
       {"data":{"name":"vio"},"transform":[{"filter":"datum.g === 'Low stromal score (n=185)'"},{"stack":"w","groupby":["v"],"offset":"center","as":["x0","x1"]}],"layer":[
        {"mark":{"type":"area","orient":"horizontal","interpolate":"monotone","fill":"#2aa63a","stroke":"#333","strokeWidth":1},"encoding":{"x":{"field":"x0","type":"quantitative","scale":{"domain":[-16.64,110.36],"nice":false,"zero":false},"axis":null},"x2":{"field":"x1"}}},
        {"transform":[{"filter":"datum.v === 6.5"}],"mark":{"type":"rule","color":"#222","strokeOpacity":0.55,"strokeWidth":1},"encoding":{"x":{"field":"x0","type":"quantitative","scale":{"domain":[-16.64,110.36],"nice":false,"zero":false},"axis":null},"x2":{"field":"x1"}}}
       ]},
       {"data":{"name":"vio"},"transform":[{"filter":"datum.g === 'High stromal score (n=186)'"},{"stack":"w","groupby":["v"],"offset":"center","as":["x0","x1"]}],"layer":[
        {"mark":{"type":"area","orient":"horizontal","interpolate":"monotone","fill":"#f07167","stroke":"#333","strokeWidth":1},"encoding":{"x":{"field":"x0","type":"quantitative","scale":{"domain":[-75.36,51.64],"nice":false,"zero":false},"axis":null},"x2":{"field":"x1"}}},
        {"transform":[{"filter":"datum.v === 5.75"}],"mark":{"type":"rule","color":"#222","strokeOpacity":0.55,"strokeWidth":1},"encoding":{"x":{"field":"x0","type":"quantitative","scale":{"domain":[-75.36,51.64],"nice":false,"zero":false},"axis":null},"x2":{"field":"x1"}}}
       ]}
      ],
      "resolve":{"scale":{"x":"independent"},"axis":{"x":"independent"}}
     },
     {"width":262,"height":93,
      "encoding":{"y":{"field":"v","type":"quantitative","scale":{"domain":[-1.2,12.9],"nice":false,"zero":false},"axis":{"values":[0,5,10],"title":null}}},
      "layer":[
       {"layer":[
        {"data":{"name":"grp"},"transform":[{"filter":"datum.p === 'c3'"}],"mark":{"type":"point","opacity":0},
         "encoding":{"x":{"field":"g","type":"nominal","title":null,"scale":{"domain":["G1 (n=55)","G2 (n=177)","G3 (n=122)","G4 (n=12)"],"paddingInner":0,"paddingOuter":0.1},"axis":{"labelExpr":"[slice(datum.value,0,lastindexof(datum.value,' (')), slice(datum.value,lastindexof(datum.value,' (')+1)]"}}}},
        {"data":{"name":"br"},"transform":[{"filter":"datum.p === 'c3'"}],"layer":[
         {"mark":{"type":"rule","color":"#8c8c8c","strokeWidth":1},"encoding":{"x":{"field":"g1","type":"nominal","scale":{"domain":["G1 (n=55)","G2 (n=177)","G3 (n=122)","G4 (n=12)"],"paddingInner":0,"paddingOuter":0.1},"axis":null},"x2":{"field":"g2"}}},
         {"mark":{"type":"point","shape":"M0,-1L0,1","size":20,"color":"#8c8c8c","strokeWidth":1,"filled":false,"opacity":1},"encoding":{"x":{"field":"g1","type":"nominal","scale":{"domain":["G1 (n=55)","G2 (n=177)","G3 (n=122)","G4 (n=12)"],"paddingInner":0,"paddingOuter":0.1},"axis":null}}},
         {"mark":{"type":"point","shape":"M0,-1L0,1","size":20,"color":"#8c8c8c","strokeWidth":1,"filled":false,"opacity":1},"encoding":{"x":{"field":"g2","type":"nominal","scale":{"domain":["G1 (n=55)","G2 (n=177)","G3 (n=122)","G4 (n=12)"],"paddingInner":0,"paddingOuter":0.1},"axis":null}}},
         {"transform":[{"filter":"datum.v !== 12.6"}],"mark":{"type":"text","fontSize":8,"color":"#555","baseline":"bottom","dy":-1},"encoding":{"x":{"field":"m","type":"nominal","bandPosition":1,"scale":{"domain":["G1 (n=55)","G2 (n=177)","G3 (n=122)","G4 (n=12)"],"paddingInner":0,"paddingOuter":0.1},"axis":null},"text":{"field":"s"}}},
         {"transform":[{"filter":"datum.v === 12.6"}],"mark":{"type":"text","fontSize":8,"color":"#555","baseline":"bottom","dy":-1},"encoding":{"x":{"field":"m","type":"nominal","bandPosition":0.5,"scale":{"domain":["G1 (n=55)","G2 (n=177)","G3 (n=122)","G4 (n=12)"],"paddingInner":0,"paddingOuter":0.1},"axis":null},"text":{"field":"s"}}}
        ]}
       ]},
       {"data":{"name":"vio"},"transform":[{"filter":"datum.g === 'G1 (n=55)'"},{"stack":"w","groupby":["v"],"offset":"center","as":["x0","x1"]}],"layer":[
        {"mark":{"type":"area","orient":"horizontal","interpolate":"monotone","fill":"#f07167","stroke":"#333","strokeWidth":1},"encoding":{"x":{"field":"x0","type":"quantitative","scale":{"domain":[-17.43,244.57],"nice":false,"zero":false},"axis":null},"x2":{"field":"x1"}}},
        {"transform":[{"filter":"datum.v === 5.1"}],"mark":{"type":"rule","color":"#222","strokeOpacity":0.55,"strokeWidth":1},"encoding":{"x":{"field":"x0","type":"quantitative","scale":{"domain":[-17.43,244.57],"nice":false,"zero":false},"axis":null},"x2":{"field":"x1"}}}
       ]},
       {"data":{"name":"vio"},"transform":[{"filter":"datum.g === 'G2 (n=177)'"},{"stack":"w","groupby":["v"],"offset":"center","as":["x0","x1"]}],"layer":[
        {"mark":{"type":"area","orient":"horizontal","interpolate":"monotone","fill":"#74ae2e","stroke":"#333","strokeWidth":1},"encoding":{"x":{"field":"x0","type":"quantitative","scale":{"domain":[-81.31,180.69],"nice":false,"zero":false},"axis":null},"x2":{"field":"x1"}}},
        {"transform":[{"filter":"datum.v === 5.8"}],"mark":{"type":"rule","color":"#222","strokeOpacity":0.55,"strokeWidth":1},"encoding":{"x":{"field":"x0","type":"quantitative","scale":{"domain":[-81.31,180.69],"nice":false,"zero":false},"axis":null},"x2":{"field":"x1"}}}
       ]},
       {"data":{"name":"vio"},"transform":[{"filter":"datum.g === 'G3 (n=122)'"},{"stack":"w","groupby":["v"],"offset":"center","as":["x0","x1"]}],"layer":[
        {"mark":{"type":"area","orient":"horizontal","interpolate":"monotone","fill":"#19bcc4","stroke":"#333","strokeWidth":1},"encoding":{"x":{"field":"x0","type":"quantitative","scale":{"domain":[-141.69,120.31],"nice":false,"zero":false},"axis":null},"x2":{"field":"x1"}}},
        {"transform":[{"filter":"datum.v === 6.75"}],"mark":{"type":"rule","color":"#222","strokeOpacity":0.55,"strokeWidth":1},"encoding":{"x":{"field":"x0","type":"quantitative","scale":{"domain":[-141.69,120.31],"nice":false,"zero":false},"axis":null},"x2":{"field":"x1"}}}
       ]},
       {"data":{"name":"vio"},"transform":[{"filter":"datum.g === 'G4 (n=12)'"},{"stack":"w","groupby":["v"],"offset":"center","as":["x0","x1"]}],"layer":[
        {"mark":{"type":"area","orient":"horizontal","interpolate":"monotone","fill":"#a07ec6","stroke":"#333","strokeWidth":1},"encoding":{"x":{"field":"x0","type":"quantitative","scale":{"domain":[-198.07,63.93],"nice":false,"zero":false},"axis":null},"x2":{"field":"x1"}}},
        {"transform":[{"filter":"datum.v === 6.95"}],"mark":{"type":"rule","color":"#222","strokeOpacity":0.55,"strokeWidth":1},"encoding":{"x":{"field":"x0","type":"quantitative","scale":{"domain":[-198.07,63.93],"nice":false,"zero":false},"axis":null},"x2":{"field":"x1"}}}
       ]}
      ],
      "resolve":{"scale":{"x":"independent"},"axis":{"x":"independent"}}
     }
    ],"spacing":17,"bounds":"flush"}
   ]}
]
}
